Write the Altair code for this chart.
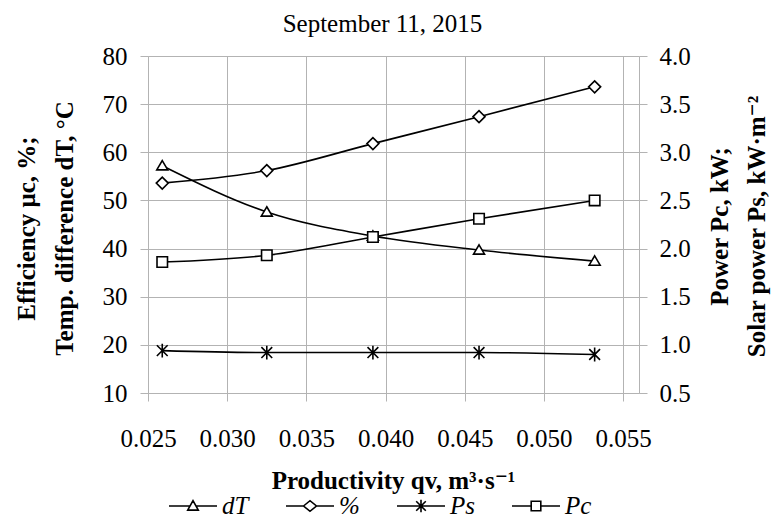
import altair as alt
import pandas as pd

# ---- data ----
q = [0.0259, 0.0325, 0.0392, 0.0459, 0.0532]
dT = [57.2, 47.6, 42.6, 39.7, 37.4]
eff = [53.6, 56.2, 61.8, 67.4, 73.6]
Ps = [0.94, 0.92, 0.92, 0.92, 0.90]
Pc = [1.86, 1.93, 2.12, 2.31, 2.50]

x_ticks = [0.025, 0.030, 0.035, 0.040, 0.045, 0.050, 0.055]
left_ticks = [10, 20, 30, 40, 50, 60, 70, 80]
right_ticks = [0.5, 1.0, 1.5, 2.0, 2.5, 3.0, 3.5, 4.0]
legend_labels = ["dT", "%", "Ps", "Pc"]

df = pd.DataFrame({"q": q, "dT": dT, "eff": eff, "Ps": Ps, "Pc": Pc})

FONT = "'Liberation Serif', 'Times New Roman', 'DejaVu Serif', serif"
GRID = "#b3b3b3"

# marker shapes
TRI = "M0,-0.95L1,0.75L-1,0.75Z"
DIA = "M-1,0L0,-1L1,0L0,1Z"
STAR = "M-0.9,-0.9L0.9,0.9M-0.9,0.9L0.9,-0.9M0,-1.15L0,1.15"
SQR = "M-1,-1L1,-1L1,1L-1,1Z"

# legend symbols: line with marker
L_TRI = "M-1,0H-0.12M0.12,0H1M0,-0.22L0.22,0.17L-0.22,0.17Z"
L_DIA = "M-1,0H-0.27M0.27,0H1M-0.27,0L0,-0.22L0.27,0L0,0.22Z"
L_STAR = "M-1,0H1M-0.2,-0.2L0.2,0.2M-0.2,0.2L0.2,-0.2M0,-0.26L0,0.26"
L_SQR = "M-1,0H-0.2M0.2,0H1M-0.2,-0.2H0.2V0.2H-0.2Z"

xenc = alt.X(
    "q:Q",
    scale=alt.Scale(domain=[0.025, 0.056], nice=False, zero=False),
    axis=alt.Axis(
        values=x_ticks, format=".3f",
        title="Productivity qv, m³·s⁻¹",
        titleFont=FONT, titleFontSize=25, titleFontWeight="bold", titleColor="black",
        titleX=245, titleY=95, titleBaseline="alphabetic", titleAlign="center",
        labelFont=FONT, labelFontSize=25, labelFontWeight="normal", labelColor="black",
        labelPadding=25, labelFlush=False,
        grid=True, gridColor=GRID, domainColor=GRID, tickColor=GRID, tickSize=8,
    ),
)

left_scale = alt.Scale(domain=[10, 80], nice=False, zero=False)
left_axis = alt.Axis(
    values=left_ticks, format="d",
    title=["Efficiency μc, %;", "Temp. difference dT, °C"],
    titleFont=FONT, titleFontSize=25, titleFontWeight="bold", titleColor="black",
    titleAngle=270, titleLineHeight=38, titleBaseline="middle", titleAlign="center",
    titleX=-122, titleY=172,
    labelFont=FONT, labelFontSize=25, labelFontWeight="normal", labelColor="black",
    labelPadding=13,
    grid=True, gridColor=GRID, domainColor=GRID, tickColor=GRID, tickSize=8,
)
right_scale = alt.Scale(domain=[0.5, 4.0], nice=False, zero=False)
right_axis = alt.Axis(
    orient="right", values=right_ticks, format=".1f",
    title=["Power Pc, kW;", "Solar power Ps, kW·m⁻²"],
    titleFont=FONT, titleFontSize=25, titleFontWeight="bold", titleColor="black",
    titleAngle=270, titleLineHeight=37, titleBaseline="middle", titleAlign="center",
    titleX=80, titleY=170,
    labelFont=FONT, labelFontSize=25, labelFontWeight="normal", labelColor="black",
    labelPadding=12,
    grid=False, domainColor=GRID, tickColor=GRID, tickSize=8,
)

base = alt.Chart(df)


def series(field, shape, scale, axis, size):
    y = alt.Y(f"{field}:Q", scale=scale, axis=axis)
    line = base.mark_line(color="black", strokeWidth=1.6, interpolate="monotone").encode(x=xenc, y=y)
    pts = base.mark_point(shape=shape, size=size, filled=True, fill="white",
                          stroke="black", strokeWidth=1.6, opacity=1).encode(x=xenc, y=y)
    return [line, pts]


legend_layer = base.transform_fold(
    ["dT", "eff", "Ps", "Pc"], as_=["key", "val"]
).transform_calculate(
    label="datum.key == 'eff' ? '%' : datum.key"
).mark_point(opacity=0, color="black", strokeWidth=1.6).encode(
    x=xenc,
    y=alt.Y("val:Q", scale=left_scale, axis=left_axis),
    shape=alt.Shape(
        "label:N",
        scale=alt.Scale(domain=legend_labels, range=[L_TRI, L_DIA, L_STAR, L_SQR]),
        legend=alt.Legend(
            title=None, orient="none", legendX=20, legendY=425, direction="horizontal",
            columns=4, symbolSize=2304, symbolStrokeWidth=1.6, symbolStrokeColor="black",
            symbolFillColor="white", symbolOpacity=1,
            labelFont=FONT, labelFontSize=25, labelFontStyle="italic",
            labelFontWeight="normal", labelColor="black",
            labelOffset=4, columnPadding=33, padding=0,
        ),
    ),
)

left = alt.layer(
    *series("dT", TRI, left_scale, left_axis, 121),
    *series("eff", DIA, left_scale, left_axis, 144),
    legend_layer,
)
right = alt.layer(
    *series("Ps", STAR, right_scale, right_axis, 144),
    *series("Pc", SQR, right_scale, right_axis, 110),
)

chart = alt.layer(left, right).resolve_scale(y="independent").properties(
    width=491,
    height=337,
    title=alt.TitleParams(
        "September 11, 2015", font=FONT, fontSize=25, fontWeight="normal",
        color="black", anchor="middle", frame="group", baseline="alphabetic",
        offset=15, dy=28, dx=-11,
    ),
    autosize=alt.AutoSizeParams(type="none"),
    padding={"left": 140, "top": 48, "right": 132, "bottom": 126},
).configure(
    background="white", font=FONT,
    style={"guide-label": {"font": FONT}},
).configure_view(
    stroke=None
).configure_axis(
    labelFont=FONT
).configure_legend(
    labelFont=FONT
)

chart.save("out.html", embed_options={"renderer": "svg", "actions": False})
